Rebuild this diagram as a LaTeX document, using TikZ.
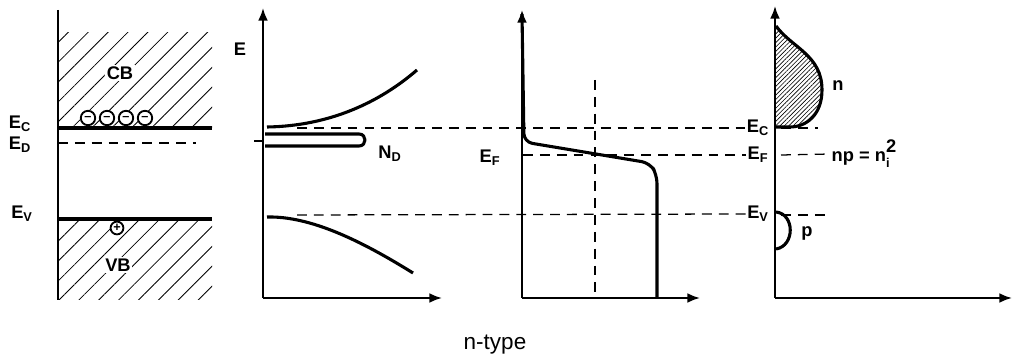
\documentclass[tikz,border=0pt]{standalone}
\usepackage{amsmath}
\usepackage{fontspec}
\setmainfont{Liberation Sans}
\usetikzlibrary{arrows.meta, patterns.meta, positioning}

\begin{document}
\begin{tikzpicture}[x=0.025cm, y=-0.025cm,
    axis/.style={line width=1.4pt, -{Latex[length=9pt,width=7pt]}},
    band/.style={line width=2.8pt},
    curve/.style={line width=2.2pt, line join=round},
    level/.style={dash pattern=on 7pt off 5pt, line width=0.9pt},
    lbl/.style={font=\fontsize{13}{15}\selectfont\bfseries, inner sep=1pt},
    hatch/.style={pattern={Lines[angle=45,distance=10pt,line width=0.6pt]}},
    carrier/.style={circle, draw, fill=white, line width=1.3pt, minimum size=0.36cm, inner sep=0pt, font=\fontsize{9}{9}\selectfont\bfseries}]
    \useasboundingbox (0,0) rectangle (1015,359);

    % band picture
    \fill[hatch] (58,33) rectangle (212,128);
    \fill[hatch] (58,219) rectangle (212,300);
    \coordinate (top1) at (58,10);
    \coordinate (bot1) at (58,300);
    \draw[line width=1.4pt] (top1) -- (bot1);
    \node[lbl, fill=white] (cb) at (120,73) {CB};
    \node[lbl, fill=white] (vb) at (118,265) {VB};
    \node[lbl] (ec1) at (20,124) {E$_\text{C}$};
    \node[lbl] (ed1) at (20,145) {E$_\text{D}$};
    \node[lbl] (ev1) at (22,214) {E$_\text{V}$};
    \coordinate (ecl) at (58,128);
    \coordinate (ecr) at (212,128);
    \coordinate (evl) at (58,219);
    \coordinate (evr) at (212,219);
    \coordinate (edl) at (58,143);
    \coordinate (edr) at (196,143);
    \draw[band] (ecl) -- (ecr);
    \draw[band] (evl) -- (evr);
    \draw[level] (edl) -- (edr);
    \foreach \i/\x in {1/88,2/107,3/126,4/145}
        \node[carrier] (el\i) at (\x,118) {–};
    \node[carrier, minimum size=0.32cm] (hole) at (117,228) {+};

    % density of states
    \coordinate (o2) at (263,298);
    \draw[axis] (o2) -- (263,8);
    \draw[axis] (o2) -- (442,298);
    \node[lbl] (e2) at (240,49) {E};
    \coordinate (cb0) at (267,127);
    \coordinate (vb0) at (267,217);
    \draw[curve] (cb0) .. controls (330,126) and (380,102) .. (417,70);
    \draw[curve] (vb0) .. controls (310,216) and (360,240) .. (413,273);
    \draw[curve] (265,134) -- (359,134) .. controls (367,134) and (367,146) .. (359,146) -- (265,146);
    \draw[line width=0.8pt] (254,141) -- (263,141);
    \node[lbl] (nd) at (390,154) {N$_\text{D}$};

    % Fermi function
    \coordinate (o3) at (522,298);
    \draw[axis] (o3) -- (522,10);
    \draw[axis] (o3) -- (700,298);
    \draw[curve, rounded corners=6pt] (522,14) -- (524,142) -- (650,163) -- (657,175) -- (657,298);
    \coordinate (mid) at (595,80);
    \coordinate (midb) at (595,298);
    \draw[level] (mid) -- (midb);
    \node[lbl] (ef3) at (490,158) {E$_\text{F}$};

    % carrier densities
    \coordinate (o4) at (775,298);
    \draw[axis] (o4) -- (775,6);
    \draw[axis] (o4) -- (1012,298);
    \fill[pattern={Lines[angle=45,distance=2.2pt,line width=0.5pt]}]
        (776,26) .. controls (792,48) and (822,55) .. (822,90)
        .. controls (822,115) and (806,127) .. (790,127) -- (776,127) -- cycle;
    \draw[curve] (776,26) .. controls (792,48) and (822,55) .. (822,90)
        .. controls (822,115) and (806,127) .. (790,127) -- (776,127);
    \draw[curve] (776,212) .. controls (795,214) and (795,246) .. (776,249);
    \node[lbl] (n4) at (838,86) {n};
    \node[lbl] (p4) at (807,233) {p};
    \node[lbl] (ec4) at (758,128) {E$_\text{C}$};
    \node[lbl] (ef4) at (758,155) {E$_\text{F}$};
    \node[lbl] (ev4) at (758,214) {E$_\text{V}$};
    \node[lbl, anchor=west] (law) at (830,154) {np = n$^{\raisebox{2pt}{\text{2}}}_{\text{i}}$};

    % level lines across
    \draw[level] (297,128) -- (ec4.west);
    \draw[level] (523,155) -- (ef4.west);
    \draw[level] (297,215) -- (ev4.west);
    \draw[level] (781,128) -- (818,128);
    \draw[level] (781,155) -- (law.west);
    \draw[level] (781,215) -- (826,215);

    \node[font=\fontsize{16}{18}\selectfont] (title) at (495,345) {n-type};
\end{tikzpicture}
\end{document}
